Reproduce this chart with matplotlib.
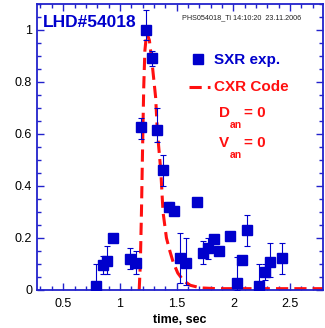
import matplotlib.pyplot as plt
from matplotlib.ticker import MultipleLocator

plt.rcParams['font.family'] = ['Liberation Sans', 'DejaVu Sans']

# SXR experimental points
sxr_t = [0.79, 0.85, 0.89, 0.94, 1.09, 1.14, 1.19, 1.227, 1.283, 1.33, 1.383,
         1.436, 1.477, 1.53, 1.583, 1.677, 1.73, 1.78, 1.83, 1.877, 1.97,
         2.03, 2.08, 2.124, 2.23, 2.28, 2.324, 2.427]
sxr_y = [0.015, 0.095, 0.113, 0.20, 0.12, 0.104, 0.628, 1.0, 0.892, 0.617, 0.463,
         0.318, 0.305, 0.123, 0.104, 0.34, 0.141, 0.162, 0.196, 0.148, 0.209,
         0.025, 0.117, 0.232, 0.014, 0.068, 0.106, 0.122]
sxr_lo = [0.0, 0.06, 0.06, 0.19, 0.08, 0.06, 0.58, 0.96, 0.86, 0.57, 0.40,
          0.30, 0.29, 0.025, 0.02, 0.33, 0.10, 0.12, 0.18, 0.135, 0.20,
          0.0, 0.11, 0.17, 0.0, 0.04, 0.05, 0.06]
sxr_hi = [0.10, 0.13, 0.17, 0.21, 0.16, 0.15, 0.66, 1.075, 0.92, 0.70, 0.52,
          0.34, 0.32, 0.22, 0.20, 0.35, 0.19, 0.20, 0.21, 0.16, 0.22,
          0.128, 0.13, 0.29, 0.10, 0.10, 0.18, 0.18]

# CXR code curve
cxr_t = [1.17, 1.18, 1.19, 1.20, 1.21, 1.22, 1.236, 1.26, 1.289, 1.315, 1.33,
         1.36, 1.38, 1.41, 1.44, 1.47, 1.51, 1.56, 1.62, 1.71, 1.85, 2.2, 2.8]
cxr_y = [0.0, 0.1, 0.3, 0.55, 0.78, 0.92, 0.99, 0.96, 0.85, 0.74, 0.61,
         0.46, 0.30, 0.20, 0.15, 0.106, 0.065, 0.036, 0.018, 0.008, 0.005, 0.005, 0.005]

blue = '#0000cc'
red = '#ff1010'
axcol = '#2222cc'

fig = plt.figure(figsize=(3.25, 3.28), dpi=100)
ax = fig.add_axes([0.114, 0.116, 0.880, 0.872])

err_lo = [y - l for y, l in zip(sxr_y, sxr_lo)]
err_hi = [h - y for y, h in zip(sxr_y, sxr_hi)]
ax.errorbar(sxr_t, sxr_y, yerr=[err_lo, err_hi], fmt='s', color=blue,
            markersize=6.8, elinewidth=0.8, capsize=2, capthick=0.8, zorder=3)
ax.plot(cxr_t, cxr_y, color=red, lw=2.2, dashes=(4, 2), zorder=2)

ax.set_xlim(0.27, 2.79)
ax.set_ylim(0, 1.1)
ax.xaxis.set_minor_locator(MultipleLocator(0.1))
ax.yaxis.set_minor_locator(MultipleLocator(0.05))
ax.set_xticks([0.5, 1, 1.5, 2, 2.5])
ax.set_xticklabels(['0.5', '1', '1.5', '2', '2.5'])
ax.set_yticks([0, 0.2, 0.4, 0.6, 0.8, 1])
ax.set_yticklabels(['0', '0.2', '0.4', '0.6', '0.8', '1'])
ax.tick_params(which='both', direction='in', top=True, right=True,
               color=axcol, labelsize=9)
ax.tick_params(which='major', length=5, width=1)
ax.tick_params(which='minor', length=3, width=1)
ax.tick_params(axis='x', pad=6)
for s in ax.spines.values():
    s.set_color(axcol)
    s.set_linewidth(1.3)

ax.set_xlabel('time, sec', fontsize=9, fontweight='bold', labelpad=3)

ax.text(0.022, 0.936, 'LHD#54018', transform=ax.transAxes, color=blue,
        fontsize=12.5, fontweight='bold', va='center')
ax.text(0.506, 0.953, 'PHS054018_Ti 14:10:20  23.11.2006', transform=ax.transAxes,
        fontsize=5.2, va='center', color='#222222')

# legend
ax.plot([1.69], [0.89], 's', color=blue, markersize=7)
ax.text(1.83, 0.885, 'SXR exp.', color=blue, fontsize=11, fontweight='bold', va='center')
ax.plot([1.61, 1.79], [0.78, 0.78], color=red, lw=2.2, dashes=(4, 2))
ax.text(1.83, 0.78, 'CXR Code', color=red, fontsize=11, fontweight='bold', va='center')
for lab, yy in [('D', 0.68), ('V', 0.564)]:
    ax.text(1.87, yy, lab, color=red, fontsize=11, fontweight='bold', va='center')
    ax.text(1.97, yy - 0.045, 'an', color=red, fontsize=7.5, fontweight='bold', va='center')
    ax.text(2.09, yy, '= 0', color=red, fontsize=11, fontweight='bold', va='center')

fig.savefig('out.png', dpi=100)
